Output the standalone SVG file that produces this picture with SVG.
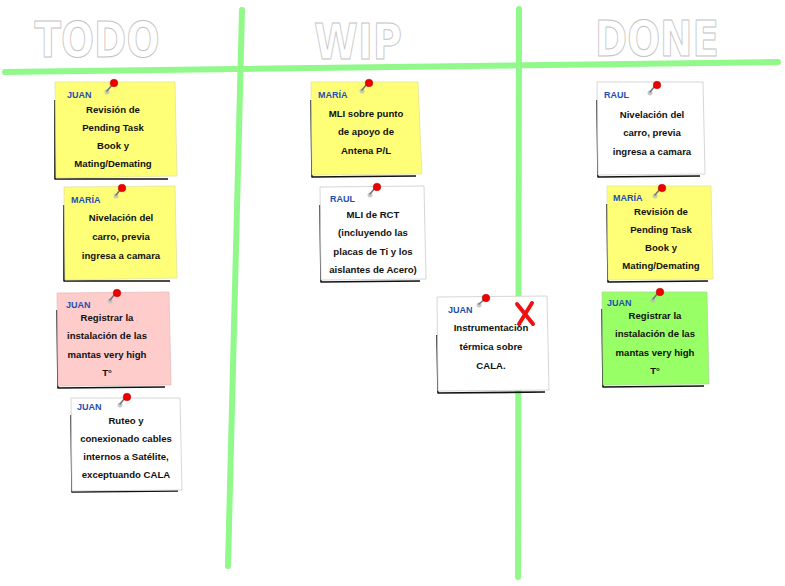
<svg xmlns="http://www.w3.org/2000/svg" width="785" height="586" viewBox="0 0 785 586">
<style>
.bg{fill:#ffffff}
.line{stroke:#90f98a;stroke-width:6;stroke-linecap:round;fill:none}
.head{font-family:"DejaVu Sans",sans-serif;font-weight:bold;font-size:50px;fill:#ffffff;stroke:#c4c4c4;stroke-width:1;stroke-linejoin:round;text-anchor:middle}
.y{fill:#ffff77;stroke:#d8d8a0;stroke-width:0.6}
.w{fill:#ffffff;stroke:#cccccc;stroke-width:0.8}
.p{fill:#ffcccc;stroke:#e0b0b0;stroke-width:0.6}
.g{fill:#99ff66;stroke:#a0d090;stroke-width:0.6}
.sh{fill:none;stroke:#111111;stroke-width:1.6;stroke-linejoin:round}
.who{font-family:"Liberation Sans",sans-serif;font-weight:bold;font-size:9px;fill:#1f4fb0}
.t{font-family:"Liberation Sans",sans-serif;font-weight:bold;font-size:9.6px;fill:#111111;text-anchor:middle}
.pin{fill:#ee0000;stroke:#aa0000;stroke-width:0.5}
.needle{stroke:#777777;stroke-width:1.6;stroke-linecap:round}
.pinsh{fill:#bbbbbb;opacity:0.8}
.x{stroke:#ee1111;stroke-width:4;stroke-linecap:round}
</style>
<rect class="bg" x="0" y="0" width="785" height="586"/>
<g id="board">
<line class="line" x1="242" y1="10" x2="228" y2="566"/>
<line class="line" x1="519" y1="9" x2="518" y2="577"/>
<line class="line" x1="5" y1="72" x2="778" y2="62"/>
<text class="head" x="97" y="57" textLength="125" lengthAdjust="spacingAndGlyphs">TODO</text>
<text class="head" x="358" y="59" textLength="88" lengthAdjust="spacingAndGlyphs">WIP</text>
<text class="head" x="657" y="56" textLength="124" lengthAdjust="spacingAndGlyphs">DONE</text>
</g>

<g id="todo1">
<polyline class="sh" points="55,100 55,179 168,179"/>
<polygon class="y" points="55,82 175,82 177,176 56,178"/>
<circle class="pinsh" cx="107" cy="92" r="2.5"/>
<line class="needle" x1="107" y1="91" x2="113" y2="84"/>
<circle class="pin" cx="114" cy="83" r="3.8"/>
<text class="who" x="67" y="98">JUAN</text>
<text class="t" x="113" y="113">Revisión de</text>
<text class="t" x="113" y="131">Pending Task</text>
<text class="t" x="113" y="149">Book y</text>
<text class="t" x="113" y="167">Mating/Demating</text>
</g>

<g id="todo2">
<polyline class="sh" points="64,205 64,281 170,281"/>
<polygon class="y" points="64,187 175,186 177,278 65,280"/>
<circle class="pinsh" cx="116" cy="196" r="2.5"/>
<line class="needle" x1="116" y1="195" x2="121" y2="189"/>
<circle class="pin" cx="122" cy="188" r="3.8"/>
<text class="who" x="71" y="203">MARÍA</text>
<text class="t" x="121" y="221">Nivelación del</text>
<text class="t" x="121" y="240">carro, previa</text>
<text class="t" x="121" y="259">ingresa a camara</text>
</g>

<g id="todo3">
<polyline class="sh" points="57,310 58,388 165,387"/>
<polygon class="p" points="57,293 169,292 171,385 58,386"/>
<circle class="pinsh" cx="110" cy="301" r="2.5"/>
<line class="needle" x1="110" y1="300" x2="115" y2="294"/>
<circle class="pin" cx="117" cy="293" r="3.8"/>
<text class="who" x="66" y="308">JUAN</text>
<text class="t" x="107" y="321">Registrar la</text>
<text class="t" x="107" y="339">instalación de las</text>
<text class="t" x="107" y="358">mantas very high</text>
<text class="t" x="107" y="376">T°</text>
</g>

<g id="todo4">
<polyline class="sh" points="71,415 72,492 178,491"/>
<polygon class="w" points="71,398 180,398 182,490 72,491"/>
<circle class="pinsh" cx="120" cy="405" r="2.5"/>
<line class="needle" x1="120" y1="404" x2="125" y2="398"/>
<circle class="pin" cx="127" cy="397" r="3.8"/>
<text class="who" x="77" y="410">JUAN</text>
<text class="t" x="126" y="424">Ruteo y</text>
<text class="t" x="126" y="442">conexionado cables</text>
<text class="t" x="126" y="460">internos a Satélite,</text>
<text class="t" x="126" y="478">exceptuando CALA</text>
</g>

<g id="wip1">
<polyline class="sh" points="311,100 312,177 416,176"/>
<polygon class="y" points="311,82 418,82 422,174 312,175"/>
<circle class="pinsh" cx="362" cy="91" r="2.5"/>
<line class="needle" x1="362" y1="90" x2="367" y2="84"/>
<circle class="pin" cx="369" cy="83" r="3.8"/>
<text class="who" x="318" y="98">MARÍA</text>
<text class="t" x="366" y="117">MLI sobre punto</text>
<text class="t" x="366" y="135">de apoyo de</text>
<text class="t" x="366" y="154">Antena P/L</text>
</g>

<g id="wip2">
<polyline class="sh" points="320,205 321,282 420,281"/>
<polygon class="w" points="320,187 424,186 426,279 321,280"/>
<circle class="pinsh" cx="370" cy="195" r="2.5"/>
<line class="needle" x1="370" y1="194" x2="375" y2="188"/>
<circle class="pin" cx="377" cy="187" r="3.8"/>
<text class="who" x="330" y="202">RAUL</text>
<text class="t" x="373" y="218">MLI de RCT</text>
<text class="t" x="373" y="236">(incluyendo las</text>
<text class="t" x="373" y="255">placas de Ti y los</text>
<text class="t" x="373" y="273">aislantes de Acero)</text>
</g>

<g id="wip3">
<polyline class="sh" points="437,335 438,393 545,392"/>
<polygon class="w" points="437,297 547,296 549,390 438,391"/>
<circle class="pinsh" cx="479" cy="305" r="2.5"/>
<line class="needle" x1="479" y1="304" x2="485" y2="299"/>
<circle class="pin" cx="486" cy="298" r="3.8"/>
<text class="who" x="448" y="313">JUAN</text>
<text class="t" x="491" y="331">Instrumentación</text>
<text class="t" x="491" y="350">térmica sobre</text>
<text class="t" x="491" y="369">CALA.</text>
<line class="x" x1="517" y1="304" x2="533" y2="324"/>
<line class="x" x1="532" y1="303" x2="519" y2="324"/>
</g>

<g id="done1">
<polyline class="sh" points="597,100 598,177 700,176"/>
<polygon class="w" points="597,82 703,82 705,174 598,175"/>
<circle class="pinsh" cx="650" cy="93" r="2.5"/>
<line class="needle" x1="650" y1="92" x2="655" y2="86"/>
<circle class="pin" cx="657" cy="85" r="3.8"/>
<text class="who" x="604" y="98">RAUL</text>
<text class="t" x="652" y="118">Nivelación del</text>
<text class="t" x="652" y="136">carro, previa</text>
<text class="t" x="652" y="155">ingresa a camara</text>
</g>

<g id="done2">
<polyline class="sh" points="607,204 608,282 708,281"/>
<polygon class="y" points="607,186 711,186 713,279 608,280"/>
<circle class="pinsh" cx="655" cy="196" r="2.5"/>
<line class="needle" x1="655" y1="195" x2="660" y2="189"/>
<circle class="pin" cx="662" cy="188" r="3.8"/>
<text class="who" x="613" y="201">MARÍA</text>
<text class="t" x="661" y="215">Revisión de</text>
<text class="t" x="661" y="233">Pending Task</text>
<text class="t" x="661" y="251">Book y</text>
<text class="t" x="661" y="269">Mating/Demating</text>
</g>

<g id="done3">
<polyline class="sh" points="602,309 603,387 704,386"/>
<polygon class="g" points="602,292 707,292 709,384 603,385"/>
<circle class="pinsh" cx="653" cy="300" r="2.5"/>
<line class="needle" x1="653" y1="299" x2="658" y2="293"/>
<circle class="pin" cx="660" cy="292" r="3.8"/>
<text class="who" x="607" y="306">JUAN</text>
<text class="t" x="655" y="319">Registrar la</text>
<text class="t" x="655" y="337">instalación de las</text>
<text class="t" x="655" y="356">mantas very high</text>
<text class="t" x="655" y="374">T°</text>
</g>
</svg>
